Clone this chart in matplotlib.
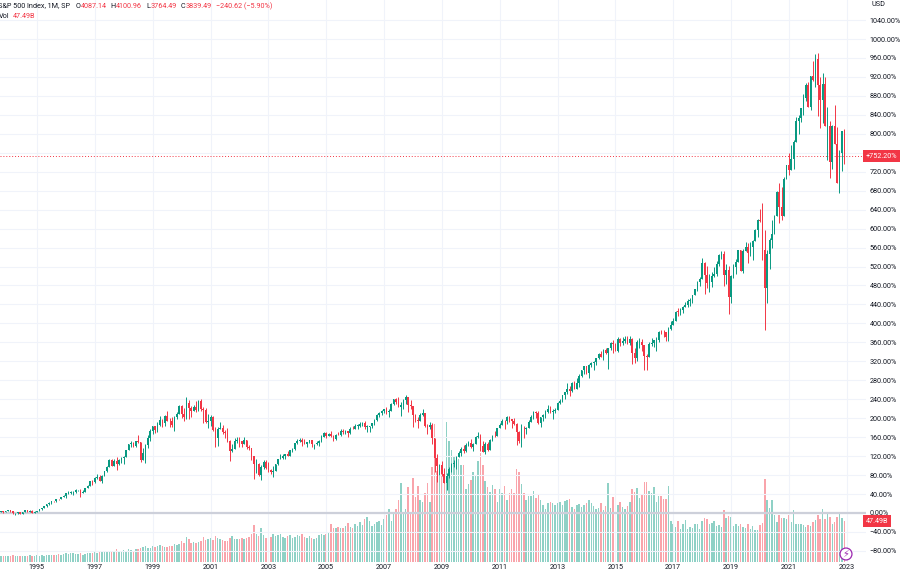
import matplotlib
matplotlib.use('Agg')
import matplotlib.pyplot as plt
import matplotlib.transforms as mtransforms
import numpy as np

# ---------- Data: S&P 500 monthly bars, Oct 1993 .. Dec 2022 ----------
first_open = 458.93          # open of the first bar (Oct 1993)
last_pct = 752.20            # percent change shown for the last close

closes = [
    467.83, 461.79, 466.45,                                                          # 1993 Q4
    481.61, 467.14, 445.77, 450.91, 456.50, 444.27, 458.26, 475.49, 462.71, 472.35, 453.69, 459.27,   # 1994
    470.42, 487.39, 500.71, 514.71, 533.40, 544.75, 562.06, 561.88, 584.41, 581.50, 605.37, 615.93,   # 1995
    636.02, 640.43, 645.50, 654.17, 669.12, 670.63, 639.95, 651.99, 687.33, 705.27, 757.02, 740.74,   # 1996
    786.16, 790.82, 757.12, 801.34, 848.28, 885.14, 954.29, 899.47, 947.28, 914.62, 955.40, 970.43,   # 1997
    980.28, 1049.34, 1101.75, 1111.75, 1090.82, 1133.84, 1120.67, 957.28, 1017.01, 1098.67, 1163.63, 1229.23,  # 1998
    1279.64, 1238.33, 1286.37, 1335.18, 1301.84, 1372.71, 1328.72, 1320.41, 1282.71, 1362.93, 1388.91, 1469.25,  # 1999
    1394.46, 1366.42, 1498.58, 1452.43, 1420.60, 1454.60, 1430.83, 1517.68, 1436.51, 1429.40, 1315.23, 1320.28,  # 2000
    1366.01, 1239.94, 1160.33, 1249.46, 1255.82, 1224.42, 1211.23, 1133.58, 1040.94, 1059.78, 1139.45, 1148.08,  # 2001
    1130.20, 1106.73, 1147.39, 1076.92, 1067.14, 989.82, 911.62, 916.07, 815.28, 885.76, 936.31, 879.82,   # 2002
    855.70, 841.15, 848.18, 916.92, 963.59, 974.50, 990.31, 1008.01, 995.97, 1050.71, 1058.20, 1111.92,    # 2003
    1131.13, 1144.94, 1126.21, 1107.30, 1120.68, 1140.84, 1101.72, 1104.24, 1114.58, 1130.20, 1173.82, 1211.92,  # 2004
    1181.27, 1203.60, 1180.59, 1156.85, 1191.50, 1191.33, 1234.18, 1220.33, 1228.81, 1207.01, 1249.48, 1248.29,  # 2005
    1280.08, 1280.66, 1294.83, 1310.61, 1270.09, 1270.20, 1276.66, 1303.82, 1335.85, 1377.94, 1400.63, 1418.30,  # 2006
    1438.24, 1406.82, 1420.86, 1482.37, 1530.62, 1503.35, 1455.27, 1473.99, 1526.75, 1549.38, 1481.14, 1468.36,  # 2007
    1378.55, 1330.63, 1322.70, 1385.59, 1400.38, 1280.00, 1267.38, 1282.83, 1166.36, 968.75, 896.24, 903.25,    # 2008
    825.88, 735.09, 797.87, 872.81, 919.14, 919.32, 987.48, 1020.62, 1057.08, 1036.19, 1095.63, 1115.10,    # 2009
    1073.87, 1104.49, 1169.43, 1186.69, 1089.41, 1030.71, 1101.60, 1049.33, 1141.20, 1183.26, 1180.55, 1257.64,  # 2010
    1286.12, 1327.22, 1325.83, 1363.61, 1345.20, 1320.64, 1292.28, 1218.89, 1131.42, 1253.30, 1246.96, 1257.60,  # 2011
    1312.41, 1365.68, 1408.47, 1397.91, 1310.33, 1362.16, 1379.32, 1406.58, 1440.67, 1412.16, 1416.18, 1426.19,  # 2012
    1498.11, 1514.68, 1569.19, 1597.57, 1630.74, 1606.28, 1685.73, 1632.97, 1681.55, 1756.54, 1805.81, 1848.36,  # 2013
    1782.59, 1859.45, 1872.34, 1883.95, 1923.57, 1960.23, 1930.67, 2003.37, 1972.29, 2018.05, 2067.56, 2058.90,  # 2014
    1994.99, 2104.50, 2067.89, 2085.51, 2107.39, 2063.11, 2103.84, 1972.18, 1920.03, 2079.36, 2080.41, 2043.94,  # 2015
    1940.24, 1932.23, 2059.74, 2065.30, 2096.95, 2098.86, 2173.60, 2170.95, 2168.27, 2126.15, 2198.81, 2238.83,  # 2016
    2278.87, 2363.64, 2362.72, 2384.20, 2411.80, 2423.41, 2470.30, 2471.65, 2519.36, 2575.26, 2647.58, 2673.61,  # 2017
    2823.81, 2713.83, 2640.87, 2648.05, 2705.27, 2718.37, 2816.29, 2901.52, 2913.98, 2711.74, 2760.17, 2506.85,  # 2018
    2704.10, 2784.49, 2834.40, 2945.83, 2752.06, 2941.76, 2980.38, 2926.46, 2976.74, 3037.56, 3140.98, 3230.78,  # 2019
    3225.52, 2954.22, 2584.59, 2912.43, 3044.31, 3100.29, 3271.12, 3500.31, 3363.00, 3269.96, 3621.63, 3756.07,  # 2020
    3714.24, 3811.15, 3972.89, 4181.17, 4204.11, 4297.50, 4395.26, 4522.68, 4307.54, 4605.38, 4567.00, 4766.18,  # 2021
    4515.55, 4373.94, 4530.41, 4131.93, 4132.15, 3785.38, 4130.29, 3955.00, 3585.62, 3871.98, 4080.11, 3839.49,  # 2022
]

highs = [
    470.9, 468.6, 471.3,
    482.9, 483.0, 471.1, 453.1, 457.6, 462.1, 459.3, 477.0, 476.0, 475.4, 474.6, 466.4,
    471.4, 489.2, 501.0, 515.0, 533.6, 551.1, 563.8, 565.0, 586.0, 587.4, 606.9, 622.9,
    636.2, 664.2, 656.5, 656.7, 678.5, 673.3, 675.9, 668.1, 690.9, 714.1, 758.0, 761.8,
    794.7, 817.7, 814.9, 812.9, 851.4, 898.7, 961.6, 960.3, 960.5, 983.1, 959.1, 986.3,
    992.7, 1051.8, 1105.6, 1130.5, 1123.4, 1138.5, 1190.6, 1121.0, 1066.1, 1103.8, 1193.0, 1244.9,
    1280.4, 1280.4, 1316.6, 1375.7, 1347.8, 1383.1, 1420.3, 1353.1, 1361.0, 1375.0, 1410.9, 1473.1,
    1478.0, 1444.6, 1552.9, 1527.2, 1464.4, 1474.6, 1517.3, 1525.2, 1530.1, 1454.8, 1452.9, 1389.1,
    1383.4, 1376.4, 1267.4, 1269.3, 1315.9, 1286.6, 1239.8, 1255.8, 1143.0, 1110.6, 1163.4, 1173.0,
    1177.0, 1130.2, 1172.8, 1147.8, 1099.3, 1070.7, 994.5, 965.0, 924.0, 907.4, 951.0, 954.3,
    935.1, 864.6, 895.9, 919.7, 965.4, 1015.3, 1015.4, 1011.0, 1040.0, 1053.8, 1063.7, 1112.6,
    1155.4, 1159.0, 1163.2, 1150.6, 1127.7, 1146.3, 1140.8, 1109.7, 1131.5, 1142.1, 1188.5, 1217.3,
    1217.9, 1212.4, 1229.1, 1191.9, 1199.6, 1219.6, 1245.2, 1245.9, 1243.1, 1233.3, 1270.6, 1275.8,
    1294.9, 1297.6, 1310.9, 1318.2, 1326.7, 1284.9, 1280.4, 1306.7, 1340.3, 1389.5, 1407.9, 1431.8,
    1441.6, 1461.6, 1438.9, 1498.0, 1535.6, 1540.6, 1555.9, 1503.9, 1538.7, 1576.1, 1545.1, 1523.6,
    1471.8, 1396.0, 1359.7, 1397.0, 1440.2, 1404.1, 1292.2, 1313.2, 1303.0, 1167.0, 1007.5, 918.9,
    943.9, 877.9, 833.0, 888.7, 930.2, 956.2, 996.7, 1039.5, 1080.2, 1101.4, 1113.7, 1130.4,
    1150.4, 1112.4, 1180.7, 1219.8, 1206.0, 1131.2, 1121.0, 1129.2, 1157.2, 1196.1, 1227.1, 1262.6,
    1302.7, 1344.1, 1332.3, 1370.6, 1370.6, 1345.2, 1356.5, 1307.4, 1229.3, 1292.7, 1277.6, 1269.4,
    1333.5, 1378.0, 1419.2, 1422.4, 1415.3, 1363.5, 1392.0, 1426.7, 1474.5, 1471.0, 1434.3, 1448.0,
    1509.9, 1530.9, 1570.3, 1597.6, 1687.2, 1654.2, 1698.8, 1709.7, 1729.9, 1775.2, 1813.6, 1849.4,
    1850.8, 1867.9, 1884.0, 1897.3, 1924.0, 1968.2, 1991.4, 2005.0, 2019.3, 2018.2, 2075.8, 2093.6,
    2064.4, 2119.6, 2114.9, 2125.9, 2134.7, 2130.0, 2132.8, 2112.7, 2020.9, 2094.3, 2116.5, 2104.3,
    2038.2, 1963.0, 2072.2, 2111.1, 2099.4, 2120.6, 2177.1, 2193.8, 2187.9, 2169.6, 2214.1, 2277.5,
    2301.0, 2371.5, 2401.0, 2398.2, 2418.7, 2453.8, 2484.0, 2490.9, 2519.4, 2583.0, 2657.7, 2695.0,
    2872.9, 2836.0, 2801.9, 2717.5, 2742.2, 2791.5, 2848.0, 2916.5, 2940.9, 2939.9, 2815.2, 2800.2,
    2709.0, 2813.5, 2860.3, 2949.5, 2954.1, 2964.2, 3028.0, 3013.6, 3022.0, 3050.1, 3154.3, 3247.9,
    3337.8, 3393.5, 3136.7, 2954.9, 3068.7, 3233.1, 3280.0, 3514.8, 3588.1, 3549.9, 3646.0, 3760.2,
    3870.9, 3950.4, 3994.4, 4218.8, 4238.0, 4302.4, 4430.0, 4537.4, 4545.9, 4608.1, 4743.8, 4808.9,
    4818.6, 4595.3, 4637.3, 4593.5, 4307.7, 4177.5, 4140.2, 4325.3, 4119.3, 3905.4, 4080.1, 4100.96,
]

lows = [
    458.9, 454.4, 460.9,
    465.4, 464.3, 436.2, 435.9, 443.9, 442.8, 443.7, 456.8, 460.9, 460.4, 449.1, 450.0,
    459.1, 469.7, 481.3, 499.2, 511.5, 529.7, 539.2, 553.0, 558.6, 576.0, 579.4, 601.7,
    597.3, 633.7, 627.6, 624.0, 638.9, 657.3, 605.9, 639.7, 646.9, 684.0, 703.8, 716.7,
    737.0, 773.4, 756.1, 733.5, 797.8, 837.1, 883.0, 897.5, 898.1, 855.3, 906.3, 922.0,
    912.8, 979.3, 1044.6, 1076.7, 1074.4, 1074.6, 1114.9, 939.9, 957.3, 923.3, 1071.4, 1136.9,
    1205.5, 1206.6, 1221.0, 1281.4, 1271.7, 1277.4, 1323.9, 1268.6, 1263.4, 1233.7, 1339.5, 1387.4,
    1350.1, 1325.1, 1346.6, 1339.4, 1361.1, 1420.6, 1413.9, 1422.4, 1419.4, 1305.8, 1307.2, 1254.1,
    1274.6, 1228.3, 1081.2, 1092.0, 1245.0, 1203.0, 1165.5, 1126.0, 944.8, 1026.8, 1054.3, 1114.3,
    1081.7, 1074.4, 1105.7, 1063.5, 1049.0, 952.9, 775.7, 833.4, 800.2, 768.6, 872.7, 871.9,
    840.3, 817.0, 788.9, 847.9, 902.8, 960.8, 962.1, 960.8, 990.4, 994.7, 1031.2, 1053.4,
    1105.1, 1124.4, 1087.2, 1107.2, 1076.3, 1113.3, 1078.8, 1060.7, 1101.3, 1090.2, 1127.6, 1173.8,
    1163.8, 1180.6, 1176.9, 1136.2, 1146.2, 1188.3, 1183.6, 1201.1, 1205.4, 1168.2, 1201.1, 1246.6,
    1245.7, 1253.6, 1268.4, 1280.7, 1245.3, 1219.3, 1224.5, 1261.3, 1290.9, 1327.1, 1361.0, 1385.9,
    1404.0, 1389.4, 1364.0, 1416.4, 1476.7, 1484.2, 1454.3, 1370.6, 1439.3, 1489.6, 1406.1, 1435.7,
    1270.1, 1316.8, 1257.0, 1324.4, 1373.7, 1272.0, 1200.4, 1247.4, 1106.4, 839.8, 741.0, 815.7,
    804.3, 731.1, 666.8, 783.3, 843.2, 888.9, 869.3, 978.5, 992.0, 1020.2, 1029.4, 1085.9,
    1071.6, 1044.5, 1105.0, 1160.4, 1040.8, 1028.3, 1010.9, 1039.7, 1047.1, 1131.9, 1173.0, 1180.9,
    1257.6, 1282.9, 1249.1, 1294.7, 1311.8, 1258.1, 1282.9, 1101.5, 1114.2, 1074.8, 1158.7, 1202.4,
    1258.9, 1312.4, 1340.0, 1357.4, 1292.0, 1266.7, 1325.4, 1354.7, 1396.6, 1403.3, 1343.4, 1398.1,
    1426.2, 1485.0, 1501.5, 1536.0, 1581.3, 1560.3, 1604.6, 1627.5, 1633.4, 1646.5, 1746.2, 1768.0,
    1770.5, 1737.9, 1834.4, 1814.4, 1859.8, 1916.0, 1930.7, 1904.8, 1964.0, 1820.7, 2001.0, 1972.6,
    1988.1, 1980.9, 2039.7, 2048.4, 2067.9, 2056.3, 2044.0, 1867.0, 1871.9, 1893.7, 2019.4, 1993.3,
    1812.3, 1810.1, 1937.1, 2033.8, 2025.9, 1991.7, 2074.0, 2147.6, 2119.1, 2083.8, 2083.8, 2187.4,
    2245.1, 2271.7, 2322.3, 2329.0, 2352.7, 2405.7, 2407.7, 2417.4, 2446.6, 2520.4, 2557.4, 2605.5,
    2682.4, 2532.7, 2585.9, 2553.8, 2594.6, 2692.0, 2699.0, 2795.1, 2864.1, 2603.5, 2631.1, 2346.6,
    2444.0, 2681.8, 2722.3, 2848.6, 2750.5, 2728.8, 2952.2, 2822.1, 2891.9, 2855.9, 3050.7, 3070.3,
    3214.6, 2855.8, 2191.9, 2447.5, 2766.6, 2965.7, 3101.2, 3284.5, 3209.5, 3233.9, 3279.7, 3633.4,
    3662.7, 3725.6, 3723.3, 3974.3, 4056.9, 4164.4, 4233.1, 4367.7, 4305.9, 4278.9, 4560.0, 4495.1,
    4222.6, 4114.7, 4157.9, 4124.3, 3810.3, 3636.9, 3721.6, 3954.5, 3584.1, 3491.6, 3698.2, 3764.49,
]

# monthly volume, billions
volume = [
    6.4, 6.6, 6.9,
    7.5, 7.2, 8.0, 6.8, 6.9, 7.0, 6.5, 7.4, 7.0, 7.6, 7.3, 7.1,
    7.6, 7.4, 8.1, 7.2, 8.2, 8.4, 8.3, 8.1, 8.5, 8.8, 8.3, 9.0,
    9.9, 9.5, 10.2, 10.8, 9.6, 9.0, 10.4, 8.7, 9.8, 10.6, 10.1, 10.5,
    11.5, 10.9, 11.2, 12.0, 11.4, 12.3, 11.9, 12.2, 13.0, 14.8, 12.4, 13.1,
    13.5, 13.0, 14.6, 14.0, 13.2, 14.9, 15.3, 16.8, 17.6, 18.4, 15.8, 16.7,
    18.0, 17.2, 19.1, 19.9, 18.5, 17.8, 17.5, 18.3, 18.9, 20.5, 19.4, 20.8,
    24.0, 22.5, 29.0, 26.5, 22.0, 23.1, 21.5, 22.8, 24.2, 28.8, 25.3, 26.6,
    27.5, 26.1, 30.5, 28.0, 26.5, 25.0, 24.5, 24.0, 28.0, 30.0, 27.2, 26.4,
    27.0, 28.0, 27.0, 28.0, 29.0, 33.0, 43.0, 32.0, 30.0, 39.0, 31.0, 28.0,
    31, 29, 33, 30, 31, 32, 29, 28, 30, 31, 28, 29,
    31, 30, 33, 29, 28, 30, 28, 27, 28, 31, 32, 31,
    32, 34, 44, 40, 39, 41, 40, 39, 42, 45, 41, 40,
    44, 42, 46, 43, 50, 52, 47, 42, 44, 46, 47, 43,
    50, 55, 62, 48, 58, 62, 72, 92, 56, 62, 87, 58,
    98, 75, 88, 72, 70, 80, 92, 70, 110, 160, 105, 100,
    105, 100, 163, 140, 130, 123, 117, 119, 113, 113, 85, 90,
    95, 104, 100, 117, 127, 112, 94, 87, 81, 89, 85, 70,
    85, 80, 88, 72, 80, 85, 80, 108, 104, 90, 80, 72,
    76, 77, 82, 74, 78, 72, 66, 62, 68, 70, 69, 66,
    68, 70, 66, 71, 72, 73, 64, 62, 66, 67, 64, 66,
    68, 72, 69, 65, 62, 63, 68, 60, 65, 92, 63, 75,
    72, 66, 70, 64, 62, 65, 70, 85, 81, 86, 74, 78,
    93, 93, 82, 80, 87, 70, 76, 77, 73, 73, 88, 48,
    44, 41, 47.5, 38, 44.5, 49, 38.7, 40.6, 40, 43.7, 44.5, 38.7,
    47.5, 51, 50, 44.5, 45, 47.5, 41.4, 42.5, 40.6, 60, 51, 53,
    52, 42, 44.5, 41.4, 44.5, 40.6, 39.5, 44.5, 38.7, 41.4, 36.8, 36.8,
    42.5, 45.5, 96, 72, 62.5, 72, 55, 46, 55, 51.6, 51, 50,
    54, 46, 60, 44.5, 44.5, 44.5, 42.5, 40.6, 42.5, 41.4, 46, 48.6,
    54, 49.8, 61, 50, 56, 52.5, 44.5, 46.8, 52.5, 56, 51.6, 47.49,
]

tick_years = list(range(1995, 2024, 2))
price_ticks = list(range(-80, 1041, 40))

# ---------- Style ----------
UP = '#089981'
DOWN = '#f23645'
TXT = '#131722'
GRID = '#f0f3fa'
FS = 5.2
W, H = 900, 575
plt.rcParams['font.family'] = ['Roboto', 'DejaVu Sans']

closes = np.array(closes)
opens = np.r_[first_open, closes[:-1]]      # monthly bar opens at the prior close
highs = np.maximum.reduce([np.array(highs), opens, closes])
lows = np.minimum.reduce([np.array(lows), opens, closes])
volume = np.array(volume)

base = closes[-1] / (1 + last_pct / 100)
def to_pct(v):
    return (v / base - 1) * 100

o, c, hi, lo = to_pct(opens), to_pct(closes), to_pct(highs), to_pct(lows)
x = np.arange(len(closes))
colors = np.where(c >= o, UP, DOWN)

fig = plt.figure(figsize=(W / 100, H / 100), dpi=100)
rect = [0, 13 / H, 866 / W, 562 / H]
ax_vol = fig.add_axes(rect)
ax = fig.add_axes(rect, sharex=ax_vol)
ax.patch.set_visible(False)

# volume (background)
ax_vol.bar(x, volume, width=0.62, color=colors, alpha=0.45, linewidth=0)
ax_vol.set_ylim(0, volume.max() * 4.0)
ax_vol.set_yticks([])
ax_vol.grid(axis='x', color=GRID, linewidth=0.8)
ax_vol.tick_params(axis='x', length=0, labelbottom=False)

# candles
ax.vlines(x, lo, hi, colors=colors, linewidth=0.7, zorder=3)
ax.bar(x, np.maximum(np.abs(c - o), 0.8), bottom=np.minimum(o, c), width=0.66,
       color=colors, linewidth=0, zorder=4)

ax.axhline(0, color='#cdd0da', linewidth=1.6, zorder=2)
ax.axhline(c[-1], color=DOWN, linewidth=0.7, linestyle=(0, (1, 2)), zorder=2)

ax.set_ylim(-103.4, 1082.3)
ax.set_xlim(-0.35, 359)
ax.set_yticks(price_ticks)
ax.set_yticklabels([f"{t:.2f}%".replace('-', '\u2212') for t in price_ticks])
ax.yaxis.tick_right()
ax.set_xticks([(yr - 1993) * 12 - 9 for yr in tick_years])
ax.set_xticklabels([str(yr) for yr in tick_years])
ax.tick_params(axis='y', length=0, pad=2.5, labelsize=FS, colors=TXT)
ax.tick_params(axis='x', length=0, pad=1.5, labelsize=FS, colors=TXT)
ax.grid(axis='y', color=GRID, linewidth=0.8, zorder=0)
ax.set_axisbelow(True)
for a in (ax, ax_vol):
    for s in a.spines.values():
        s.set_visible(False)

# last-value labels on the price scale
ax.text(1.0, c[-1], f"+{c[-1]:.2f}%", transform=ax.get_yaxis_transform(),
        ha='left', va='center', color='white', fontsize=FS, clip_on=False, zorder=10,
        bbox=dict(boxstyle='square,pad=0.35', fc=DOWN, ec='none'))
vol_tr = mtransforms.blended_transform_factory(ax.transAxes, ax_vol.transData)
ax.text(1.0, volume[-1], f"{volume[-1]:.2f}B", transform=vol_tr,
        ha='left', va='center', color='white', fontsize=FS, clip_on=False, zorder=10,
        bbox=dict(boxstyle='square,pad=0.35', fc=DOWN, ec='none'))

fig.text(871 / W, 1 - 5 / H, "USD", fontsize=FS, color=TXT, ha='left', va='center')

# legend lines, top-left: each piece starts where the previous one ends
renderer = fig.canvas.get_renderer()
def put_parts(parts, x0, y0):
    xp = x0
    for s, col, gap in parts:
        t = fig.text(xp / W, 1 - y0 / H, s, fontsize=FS, color=col, ha='left', va='center')
        xp = t.get_window_extent(renderer).x1 + gap

put_parts([("S&P 500 Index, 1M, SP", TXT, 5),
           ("O", TXT, 0.3), ("4087.14", DOWN, 4),
           ("H", TXT, 0.3), ("4100.96", DOWN, 4),
           ("L", TXT, 0.3), ("3764.49", DOWN, 4),
           ("C", TXT, 0.3), ("3839.49", DOWN, 4),
           ("\u2212240.62 (\u22125.90%)", DOWN, 0)], -1.5, 6)
put_parts([("Vol", TXT, 4), (f"{volume[-1]:.2f}B", DOWN, 0)], -1.5, 17)

# lightning badge
fig.text(846 / W, 1 - 554 / H, "\u26a1", fontsize=7, color='#9c27b0', ha='center', va='center',
         family=['DejaVu Sans'],
         bbox=dict(boxstyle='circle,pad=0.1', fc='white', ec='#9c27b0', lw=0.9))

fig.savefig("out.png", dpi=100)
